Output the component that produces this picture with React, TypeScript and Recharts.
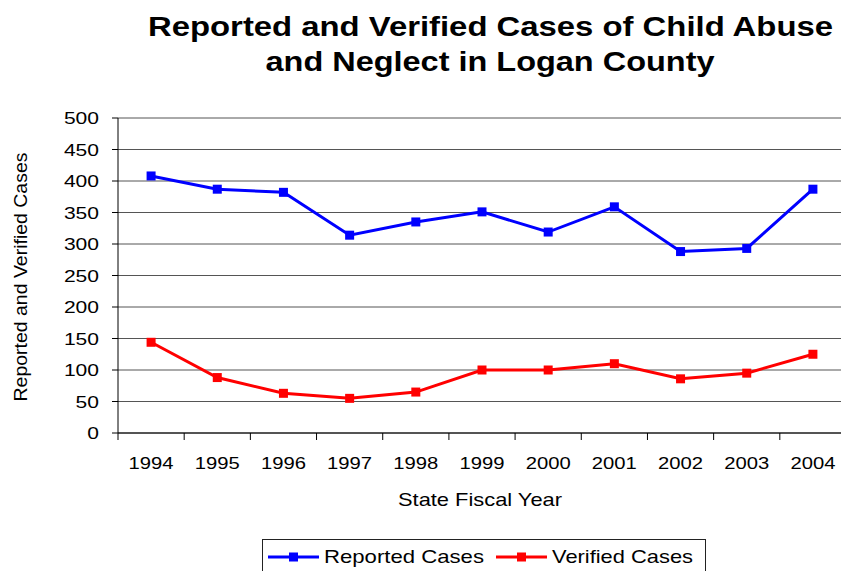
import React from 'react';
import { LineChart, Line, XAxis, YAxis, CartesianGrid } from 'recharts';

const years = ['1994', '1995', '1996', '1997', '1998', '1999', '2000', '2001', '2002', '2003', '2004'];
const reported = [408, 387, 382, 314, 335, 351, 319, 359, 288, 293, 387];
const verified = [144, 88, 63, 55, 65, 100, 100, 110, 86, 95, 125];
const yTicks = [0, 50, 100, 150, 200, 250, 300, 350, 400, 450, 500];
const seriesNames = ['Reported Cases', 'Verified Cases'];
const seriesColors = ['#0000FF', '#FF0000'];
const titleLines = ['Reported and Verified Cases of Child Abuse', 'and Neglect in Logan County'];
const xTitle = 'State Fiscal Year';
const yTitle = 'Reported and Verified Cases';

const data = years.map((y, i) => ({ pos: i + 0.5, year: y, reported: reported[i], verified: verified[i] }));
const boundaryTicks = years.map((_, i) => i).concat([years.length]);

const FONT = '"Liberation Sans", Arial, sans-serif';

const makeSquare = (color: string) => (props: any) => {
  const { cx, cy, index } = props;
  if (cx == null || cy == null) return <g key={`d-${index}`} />;
  return <rect key={`d-${index}`} x={cx - 4.5} y={cy - 4.5} width={9} height={9} fill={color} stroke="none" />;
};

const XTick = (props: any) => {
  const { x, y, payload, width } = props;
  const idx = payload.value;
  if (idx >= years.length) return <g />;
  const half = width / years.length / 2;
  return (
    <text x={x + half} y={y} textAnchor="middle" fontFamily={FONT} fontSize={17} fill="#000"
      textLength={45} lengthAdjust="spacingAndGlyphs">{years[idx]}</text>
  );
};

const YTick = (props: any) => {
  const { x, y, payload } = props;
  const s = String(payload.value);
  return (
    <text x={x} y={y + 6.2} textAnchor="end" fontFamily={FONT} fontSize={17} fill="#000"
      textLength={s.length * 11.7} lengthAdjust="spacingAndGlyphs">{s}</text>
  );
};

export default function App() {
  return (
    <div style={{ position: 'absolute', left: 0, top: 0, width: 841, height: 571, overflow: 'hidden', background: '#fff' }}>
      <div style={{ position: 'absolute', left: 0, top: 0 }}>
        <LineChart width={850} height={571} data={data} margin={{ top: 118, right: 4, bottom: 108, left: 0 }}>
          <CartesianGrid horizontal vertical={false} stroke="#555" strokeWidth={1} />
          <XAxis dataKey="pos" type="number" domain={[0, years.length]} ticks={boundaryTicks} interval={0}
            height={30} tickSize={7} tickMargin={29} stroke="#000" axisLine={{ stroke: '#000' }}
            tickLine={{ stroke: '#000' }} tick={<XTick />} />
          <YAxis type="number" domain={[0, 500]} ticks={yTicks} interval={0} width={118} tickSize={6}
            tickMargin={13} axisLine={{ stroke: '#000' }} tickLine={{ stroke: '#000' }} tick={<YTick />} />
          <Line type="linear" dataKey="reported" name={seriesNames[0]} stroke={seriesColors[0]} strokeWidth={3}
            dot={makeSquare(seriesColors[0])} activeDot={false} isAnimationActive={false} />
          <Line type="linear" dataKey="verified" name={seriesNames[1]} stroke={seriesColors[1]} strokeWidth={3}
            dot={makeSquare(seriesColors[1])} activeDot={false} isAnimationActive={false} />
        </LineChart>
      </div>
      <svg width={841} height={571} style={{ position: 'absolute', left: 0, top: 0, pointerEvents: 'none' }}>
        <text x={490.5} y={35.5} textAnchor="middle" fontFamily={FONT} fontWeight="bold" fontSize={27}
          textLength={685} lengthAdjust="spacingAndGlyphs" fill="#000">{titleLines[0]}</text>
        <text x={490} y={70.5} textAnchor="middle" fontFamily={FONT} fontWeight="bold" fontSize={27}
          textLength={449} lengthAdjust="spacingAndGlyphs" fill="#000">{titleLines[1]}</text>
        <text x={480} y={505.5} textAnchor="middle" fontFamily={FONT} fontSize={19}
          textLength={164} lengthAdjust="spacingAndGlyphs" fill="#000">{xTitle}</text>
        <text x={0} y={0} transform="translate(27,277) rotate(-90)" textAnchor="middle" fontFamily={FONT} fontSize={18}
          textLength={249} lengthAdjust="spacingAndGlyphs" fill="#000">{yTitle}</text>
        <rect x={262.5} y={539.5} width={443} height={40} fill="none" stroke="#222" strokeWidth={1} />
        <line x1={268} y1={557} x2={319} y2={557} stroke={seriesColors[0]} strokeWidth={3} />
        <rect x={289} y={552.5} width={9} height={9} fill={seriesColors[0]} />
        <text x={324} y={562.5} fontFamily={FONT} fontSize={19} textLength={160} lengthAdjust="spacingAndGlyphs" fill="#000">{seriesNames[0]}</text>
        <line x1={496} y1={557} x2={547} y2={557} stroke={seriesColors[1]} strokeWidth={3} />
        <rect x={517} y={552.5} width={9} height={9} fill={seriesColors[1]} />
        <text x={552} y={562.5} fontFamily={FONT} fontSize={19} textLength={141} lengthAdjust="spacingAndGlyphs" fill="#000">{seriesNames[1]}</text>
      </svg>
    </div>
  );
}
